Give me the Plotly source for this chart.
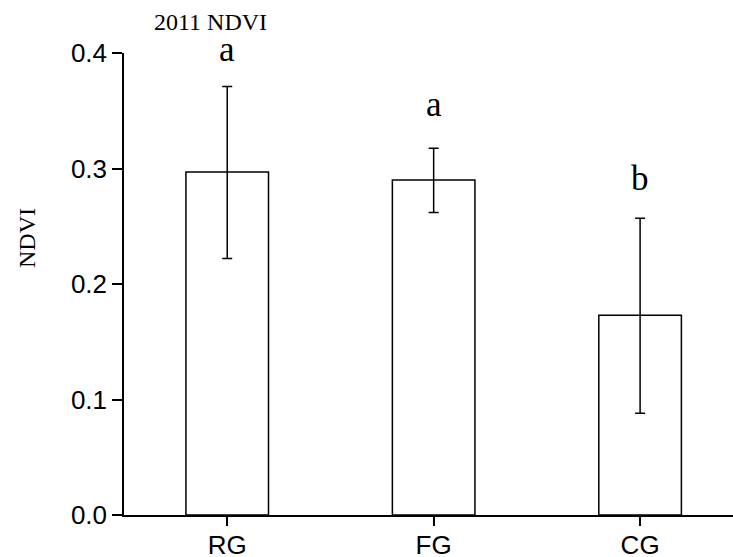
import plotly.graph_objects as go

categories = ["RG", "FG", "CG"]
means = [0.297, 0.290, 0.173]
err_plus = [0.074, 0.0275, 0.084]
err_minus = [0.075, 0.028, 0.085]
letters = ["a", "a", "b"]
letter_y = [0.403, 0.355, 0.291]
y_ticks = [0.0, 0.1, 0.2, 0.3, 0.4]
y_tick_labels = ["0.0", "0.1", "0.2", "0.3", "0.4"]

W, H = 733, 557
L, R, T, B = 124, 0, 53, 42
PW, PH = W - L - R, H - T - B
Y_MAX = 0.4
PX_PER_UNIT = PH / Y_MAX

def px_x(x):
    return (x - L) / PW

def px_y(y):
    return 1 - (y - T) / PH

serif = "Liberation Serif, Times New Roman, serif"
sans = "Liberation Sans, Arial, sans-serif"

fig = go.Figure()
fig.add_trace(go.Bar(
    x=categories, y=means, width=0.4,
    marker=dict(color="white", line=dict(color="black", width=1.5)),
    error_y=dict(type="data", symmetric=False, array=err_plus, arrayminus=err_minus,
                 color="black", thickness=1.5, width=5),
    showlegend=False,
))

annotations = []
for c, t, yy in zip(categories, letters, letter_y):
    anchor = min(yy, Y_MAX)
    annotations.append(dict(x=c, y=anchor, yshift=(yy - anchor) * PX_PER_UNIT,
                            text=t, showarrow=False, xref="x", yref="y",
                            yanchor="middle", xanchor="center",
                            font=dict(family=serif, size=35, color="black")))

annotations.append(dict(x=px_x(152), y=px_y(22), xref="paper", yref="paper", text="2011 NDVI",
                        showarrow=False, xanchor="left", yanchor="middle",
                        font=dict(family=serif, size=24, color="black")))
annotations.append(dict(x=px_x(27), y=px_y(238), xref="paper", yref="paper", text="NDVI",
                        showarrow=False, textangle=-90, xanchor="center", yanchor="middle",
                        font=dict(family=serif, size=24, color="black")))

fig.update_layout(
    width=W, height=H,
    margin=dict(l=L, r=R, t=T, b=B, pad=0),
    paper_bgcolor="white", plot_bgcolor="white",
    annotations=annotations,
    xaxis=dict(range=[-0.5, 2.45], showline=True, linecolor="black", linewidth=1.5,
               ticks="outside", ticklen=9, tickwidth=1.5, tickcolor="black",
               ticklabelstandoff=-3,
               showgrid=False, zeroline=False, automargin=False,
               tickfont=dict(family=sans, size=26, color="black")),
    yaxis=dict(range=[0, Y_MAX], showline=True, linecolor="black", linewidth=1.5,
               ticks="outside", ticklen=10, tickwidth=1.5, tickcolor="black",
               tickvals=y_ticks, ticktext=y_tick_labels,
               showgrid=False, zeroline=False, automargin=False,
               tickfont=dict(family=sans, size=26, color="black")),
)

fig.write_html("out.html", config={"displayModeBar": False},
               post_script="document.body.style.margin='0';document.body.style.overflow='hidden';")
